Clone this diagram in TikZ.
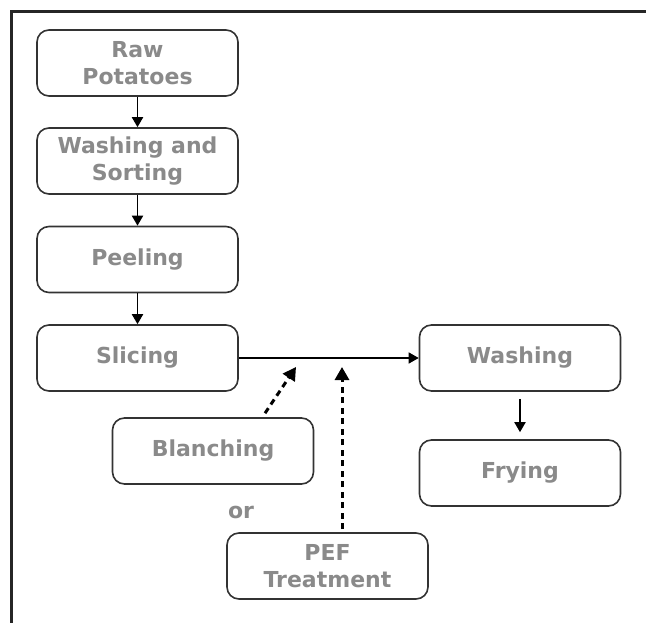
\documentclass[tikz,border=0pt]{standalone}
\usepackage{fontspec}
\setmainfont{DejaVu Sans}
\usetikzlibrary{arrows.meta,calc}
\begin{document}
\begin{tikzpicture}[x=1pt,y=-1pt,
  stepfont/.style={font=\bfseries\fontsize{22}{27}\selectfont,text=black!46},
  stepbox/.style={stepfont,draw=black!80,line width=1.6pt,rounded corners=12pt,
    minimum width=201pt,minimum height=66pt,inner sep=0pt,align=center},
  flow/.style={draw=black,line width=1.9pt,-{Triangle[length=10pt,width=11pt]}},
  optflow/.style={draw=black,line width=3pt,dash pattern=on 6pt off 4.5pt,
    -{Triangle[length=13pt,width=14pt]}}]
  \useasboundingbox (0,0) rectangle (646,623);
  % frame lines along the top and the left
  \draw[line width=2.6pt,black!85] (646,11.5) -- (11.5,11.5) -- (11.5,623);

  % main processing line
  \node[stepbox] (raw)   at (137.5,63)  {Raw\\Potatoes};
  \node[stepbox] (sort)  at (137.5,161) {Washing and\\Sorting};
  \node[stepbox] (peel)  at (137.5,259.5) {Peeling};
  \node[stepbox] (slice) at (137.5,358) {Slicing};
  \node[stepbox] (wash)  at (520,358)   {Washing};
  \node[stepbox] (fry)   at (520,473)   {Frying};

  % alternative pre-treatments
  \node[stepbox] (blanch) at (213,451)   {Blanching};
  \node[stepbox] (pef)    at (327.5,566) {PEF\\Treatment};
  \node[stepfont] (or) at (241,512) {or};

  \draw[flow] (raw) -- (sort);
  \draw[flow] (sort) -- (peel);
  \draw[flow] (peel) -- (slice);
  \draw[flow,line width=1.5pt] (slice) -- (wash);
  \draw[flow,shorten <=7pt,shorten >=7pt] (wash) -- (fry);

  \coordinate (bt) at (296,367);
  \coordinate (pt) at (342,367);
  \draw[optflow] ($(blanch.north)+(52,-4)$) -- (bt);
  \draw[optflow] ($(pef.north)+(14.5,-3)$) -- (pt);
\end{tikzpicture}
\end{document}
